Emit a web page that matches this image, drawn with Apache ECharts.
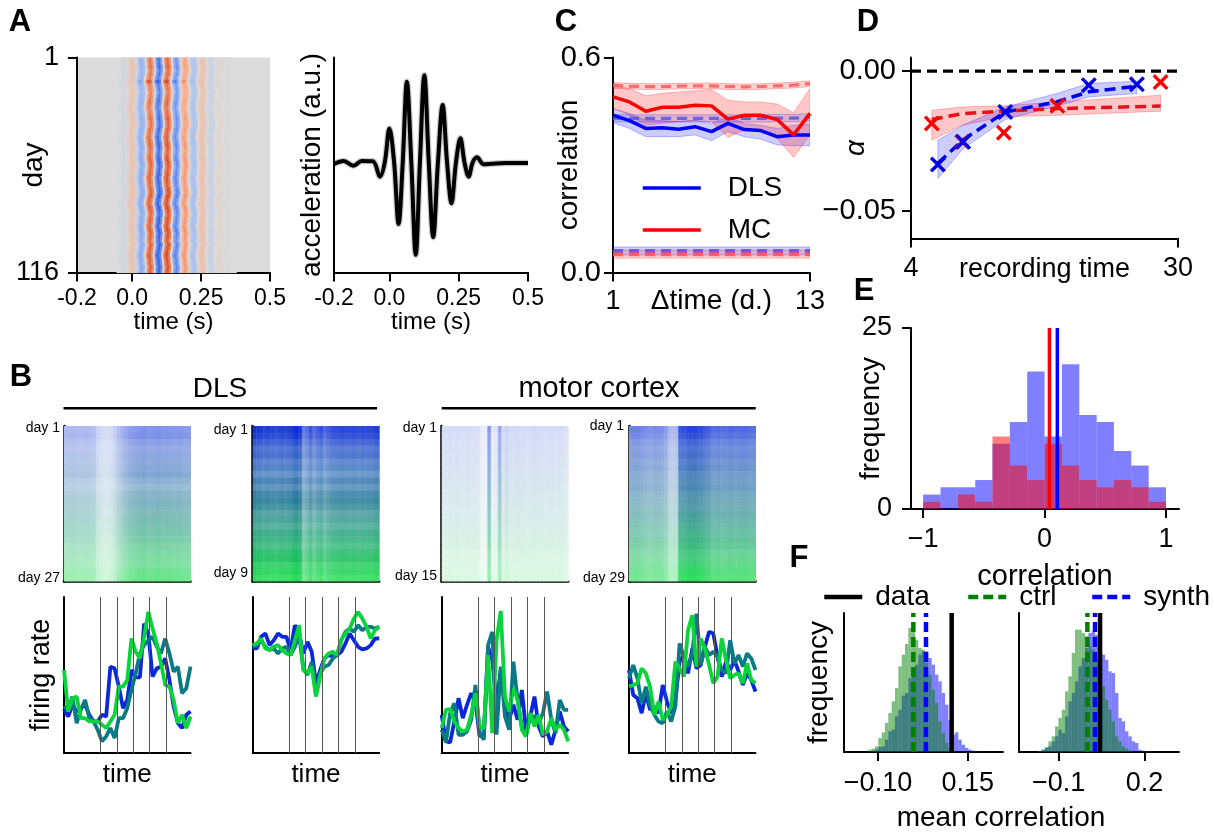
<!DOCTYPE html>
<html><head><meta charset="utf-8"><style>html,body{margin:0;padding:0;background:#fff}#c{width:1214px;height:833px}</style>
<script src="https://cdn.jsdelivr.net/npm/echarts@6/dist/echarts.min.js"></script></head>
<body><div id="c"></div><script>
// ---------- Panel A ----------
const heatStart=-0.0577, heatStep=0.0079;
const heatProfile=[0,-.02,-.06,-.1,-.05,.12,.24,.28,.18,-.15,-.45,-.58,-.45,.1,.68,.85,.68,-.1,-.75,-.98,-.75,.1,.75,.92,.72,.05,-.6,-.78,-.6,-.05,.48,.6,.48,.05,-.3,-.38,-.3,.03,.24,.3,.24,.02,-.11,-.14,-.11,0,.05,.07,.05,0,-.01,-.02,0,0,0];
const heatRowShift=[0,.1,.3,.4,.2,-.2,-.4,-.1,.2,.4,.2,0,-.2,-.4,-.1,.1,.2,.4,.4,.1,-.2,-.4,-.2,0,.2,.1,-.1,0,.3,.4,.1,0,-.3,-.1,0,.3,.5,.2,-.2,-.4,0,.3,.4,.1,0,-.3,0,.3,.1,0,.4,.1,-.2,-.4,-.1,0,.3,.1];
const heatRowGain=[.9,.9,.95,.85,.9,.85,1.1,.85,.85,.8,.85,.9,.9,.85,.85,.9,.95,.9,.9,.95,.9,.95,.95,1,.95,.9,.95,1,1,.95,.95,1,1,1,.95,1,1,1.05,1,1,1.05,1,.95,1,1,1,1.05,1,1,.95,1,1,1,1.05,1,1,1,1];
const coolwarm=['#3a62e4','#9ab8f5','#dbdbdb','#f7b090','#d5431f'];
const accelT=[-.2,-.165,-.13,-.1,-.06,-.034,-.017,0,.017,.033,.048,.063,.079,.095,.11,.126,.142,.158,.175,.192,.208,.224,.24,.256,.271,.286,.3,.316,.34,.37,.42,.5];
const accelV=[-4,5,-9,5,4,-42,0,103,0,-184,0,243,0,-277,0,263,0,-224,0,173,0,-122,0,73,0,-42,0,16,-5,-3,-1,-1];
// ---------- Panel B ----------
const rasterRows=[
 [.9,.95,.85,.8,.85,.85,.9,.95,.85,.8,.9,.95,.95,.95,1,1,1,1,.95,.95,.95,.95,1.05,1.1],
 [1.15,1.1,1,.9,.95,.85,.9,.8,.95,.85,1,1.05,1,.9,.95,.9,1,1,.95,1.05,1.1,1,1.05,1],
 [1.1,1,1,1,1,1,1,1,1,1,1,1,1,1,1,1,1,1,1,.9,.9,.9,.9,1],
 [1.15,1.1,1,.95,1,.95,1,.95,.95,1,.95,.95,.95,1,1,1,1,1.05,1.05,1,1,1.05,1.1,1.1]];
const rasterCols=[
 [.36,.36,.37,.36,.35,.36,.36,.35,.34,.24,.2,.18,.18,.2,.26,.34,.4,.45,.5,.52,.55,.56,.58,.56,.55,.56,.58,.56,.55,.56,.55,.54,.55,.54,.52,.52],
 [.85,.82,.8,.78,.8,.78,.76,.78,.8,.78,.8,.85,.88,.82,.55,.6,.7,.6,.68,.72,.62,.68,.72,.74,.75,.76,.75,.74,.76,.75,.74,.76,.75,.76,.78,.8],
 [.15,.15,.16,.15,.16,.15,.15,.16,.15,.15,.14,.08,.08,.45,.1,.12,.38,.16,.2,.16,.16,.17,.16,.16,.15,.16,.17,.16,.16,.15,.16,.16,.15,.16,.15,.13],
 [.5,.52,.52,.5,.48,.46,.46,.48,.48,.46,.42,.3,.28,.3,.7,.72,.75,.78,.78,.76,.74,.7,.68,.62,.6,.62,.6,.6,.62,.62,.6,.62,.62,.62,.6,.6]];
const rasterStops=['#0a28dc','#14738c','#0adc3c'];
const rateColors=['#0a28d8','#0a7a85','#0ad43c'];
const eventTimes=[8.64,12.56,16.44,20.32,24.24];
const rateBlue=[
 [130,110,145,125,135,145,115,95,95,115,110,260,255,200,135,160,250,228,228,390,360,230,255,260,285,220,140,90,75,115,125],
 [315,315,350,360,325,340,360,350,350,310,385,360,300,335,305,210,250,285,295,290,295,305,330,360,340,320,312,315,325,345,345],
 [115,35,32,95,165,105,145,180,155,50,60,320,280,150,250,150,100,145,100,190,70,110,170,80,50,65,25,70,125,80,65],
 [250,175,165,120,180,130,140,120,205,155,120,160,275,295,240,315,255,265,320,365,360,290,230,275,250,280,245,205,240,220,185]];
const rateTeal=[
 [140,130,170,90,130,160,105,95,70,35,50,75,45,105,105,135,190,240,300,325,340,350,320,300,345,300,245,260,180,195,260],
 [320,325,340,320,310,315,300,315,320,295,320,355,255,235,275,180,240,260,265,285,295,340,365,375,365,385,370,380,380,375,380],
 [70,32,120,150,55,55,65,100,205,60,40,325,365,55,260,110,70,275,160,80,50,110,110,90,120,185,100,60,160,130,130],
 [225,265,225,150,200,145,115,95,90,125,95,140,330,290,260,300,420,265,320,295,305,290,250,240,340,270,295,260,300,285,250]];
const rateGreen=[
 [250,125,165,170,105,105,95,95,95,85,75,95,115,200,200,220,345,305,285,350,425,375,330,270,205,200,160,90,115,75,110],
 [325,330,345,315,310,320,325,310,300,295,340,385,250,240,260,170,230,285,300,305,295,340,360,375,405,425,405,380,345,370,380],
 [75,130,132,95,75,65,70,115,180,80,75,295,60,340,428,170,125,195,160,70,50,120,80,115,55,65,105,70,85,70,35],
 [200,205,210,255,240,200,115,155,100,115,140,275,255,230,370,415,260,345,315,265,210,230,345,280,225,235,240,210,270,220,210]];
// ---------- Panel C ----------
const lagDays=[1,2,3,4,5,6,7,8,9,10,11,12,13];
const dlsCorr=[.439,.424,.402,.404,.400,.407,.393,.416,.399,.396,.379,.384,.384];
const dlsHigh=[.458,.444,.425,.424,.421,.425,.416,.435,.416,.411,.402,.411,.414];
const dlsLow=[.418,.402,.379,.379,.379,.384,.368,.393,.379,.372,.356,.354,.354];
const mcCorr=[.490,.476,.450,.461,.461,.467,.465,.428,.439,.439,.427,.384,.444];
const mcHigh=[.520,.514,.493,.500,.504,.507,.511,.481,.476,.476,.470,.446,.514];
const mcLow=[.458,.439,.411,.416,.421,.424,.421,.377,.398,.393,.374,.321,.384];
const mcSame=[.522,.520,.519,.519,.520,.521,.521,.519,.518,.519,.521,.523,.527];
const dlsSame=[.431,.430,.430,.430,.430,.430,.430,.430,.430,.430,.431,.431,.433];
const dlsCtrl=[.060,.060,.060,.060,.060,.060,.060,.060,.060,.060,.060,.060,.060];
const mcCtrl=[.051,.051,.051,.051,.051,.051,.051,.051,.051,.051,.051,.051,.051];
// ---------- Panel D ----------
const dBlueT=[4.9,5.93,8.15,12,15.3,22];
const dBluePts=[-.0334,-.0253,-.0146,null,-.005,-.0047];
const dBlueFit=[-.033,-.0245,-.0146,-.011,-.0074,-.0054];
const dBlueHigh=[-.0247,-.0193,-.0128,-.008,-.0044,-.0036];
const dBlueLow=[-.0384,-.0277,-.0173,-.0125,-.0092,-.008];
const dRedT=[4.68,5.89,8.06,12.08,26.3];
const dRedPts=[-.0187,-.0253,-.022,-.0124,-.0039];
const dRedFit=[-.0173,-.0152,-.0143,-.0134,-.0125];
const dRedHigh=[-.014,-.0128,-.0124,-.011,-.0086];
const dRedLow=[-.0247,-.0193,-.0163,-.0158,-.0143];
// ---------- Panel E ----------
const eEdges=[-1,-.857,-.714,-.571,-.429,-.286,-.143,0,.143,.286,.429,.571,.714,.857,1];
const eBlue=[2,3,3,4,9,12,19,10,20,13,12,8,6,3];
const eRed=[1,0,2,1,10,6,4,9,6,4,3,4,3,1];
const eMeanMC=.04, eMeanDLS=.105;
// ---------- Panel F ----------
const fLeftStart=-.127, fLeftWidth=.0093;
const fLeftCtrl=[7,10,17,42,59,87,117,152,192,257,292,324,372,389,337,312,307,267,232,187,147,92,57,27,12,4];
const fLeftSynth=[2,4,7,15,17,37,62,67,107,127,169,177,222,232,262,292,302,302,282,262,232,212,177,142,97,52,59,37,22,12,7,4,2];
const fLeftLines={data:.1054,ctrl:-.0015,synth:.0338};
const fRightStart=-.1712, fRightWidth=.01167;
const fRightCtrl=[3,7,15,32,47,77,102,127,182,227,297,367,367,357,347,317,307,277,242,197,157,127,92,47,32,17,10,5];
const fRightSynth=[2,7,12,17,32,47,67,57,107,152,177,212,257,282,312,357,362,352,347,292,277,242,237,177,102,92,62,47,32,27,7,4,3,2];
const fRightLines={data:.0447,ctrl:.0003,synth:.027};

// ---------- helpers ----------
const FONT='"Liberation Sans"';
const grids=[],xAxes=[],yAxes=[],series=[],elements=[];
function axis(o){
  const t=o.ticks;
  const fmt=v=>{let b=0;t.forEach((x,i)=>{if(Math.abs(x-v)<Math.abs(t[b]-v))b=i});return o.labels[b]};
  return {type:o.type||'value',min:o.min,max:o.max,inverse:!!o.inverse,
    axisLine:{show:true,onZero:false,lineStyle:{color:'#000',width:o.spine||2}},
    splitLine:{show:false},minorTick:{show:false},
    axisTick:t?{show:true,customValues:t,length:o.tickLen||9,lineStyle:{color:'#000',width:2}}:{show:false},
    axisLabel:t?{show:true,customValues:t,formatter:fmt,fontFamily:FONT,fontSize:o.fs||26,color:'#000',margin:o.margin||13}:{show:false},
    name:o.name||'',nameLocation:'middle',nameGap:o.gap||30,nameMoveOverlap:false,
    nameTextStyle:{fontFamily:FONT,fontSize:o.nfs||26,color:'#000',fontStyle:o.italic?'italic':'normal'}};
}
function panel(l,t,w,h,x,y,bg){
  grids.push({left:l,top:t,width:w,height:h,show:!!bg,backgroundColor:bg||'transparent',borderWidth:0,outerBoundsMode:'none'});
  xAxes.push(Object.assign(axis(x),{gridIndex:grids.length-1,position:'bottom'}));
  yAxes.push(Object.assign(axis(y),{gridIndex:grids.length-1,position:'left'}));
  return grids.length-1;
}
const rectItem=(colorOf,pad)=>(p,api)=>{
  const a=api.coord([api.value(0),api.value(2)]),b=api.coord([api.value(1),api.value(3)]);
  return {type:'rect',shape:{x:Math.min(a[0],b[0]),y:Math.min(a[1],b[1]),width:Math.abs(b[0]-a[0])+pad,height:Math.abs(b[1]-a[1])+pad},style:{fill:colorOf(api.value(4))}};
};
function cells(g,data,colorOf,pad){
  series.push({type:'custom',xAxisIndex:g,yAxisIndex:g,renderItem:rectItem(colorOf,pad||0),data,encode:{x:[0,1],y:[2,3]},silent:true,clip:true});
}
function line(g,name,xs,ys,color,width,dash,opacity,smooth,z){
  series.push({type:'line',name,xAxisIndex:g,yAxisIndex:g,data:xs.map((x,i)=>[x,ys[i]]),symbol:'none',smooth:smooth||false,
    lineStyle:{color,width,type:dash||'solid',opacity:opacity==null?1:opacity},itemStyle:{color},silent:true,z:z||2});
}
function band(g,xs,lo,hi,fill,stroke){
  const rows=xs.map((x,i)=>[x,lo[i],hi[i]]);
  series.push({type:'custom',xAxisIndex:g,yAxisIndex:g,silent:true,data:rows,encode:{x:0,y:[1,2]},clip:true,
    renderItem:(p,api)=>{
      if(p.dataIndex!==0) return null;
      const up=rows.map(r=>api.coord([r[0],r[2]])),dn=rows.map(r=>api.coord([r[0],r[1]])).reverse();
      return {type:'polygon',shape:{points:up.concat(dn)},style:{fill,stroke,lineWidth:1}};
    }});
}
function text(t,x,y,fs,opt){
  elements.push({type:'text',silent:true,style:{text:t,x,y,font:(opt&&opt.bold?'bold ':'')+fs+'px '+FONT,fill:'#000',textAlign:(opt&&opt.align)||'center',textVerticalAlign:'middle'}});
}
function rule(x1,x2,y){elements.push({type:'line',silent:true,shape:{x1,y1:y,x2,y2:y},style:{stroke:'#000',lineWidth:2.5}})}
const RF='rgba(255,0,0,.22)',RS='rgba(255,0,0,.25)',BF='rgba(0,0,255,.2)',BS='rgba(0,0,255,.25)';

// ---------- A ----------
let g=panel(77,57.5,193,215,
 {min:-.2,max:.5,ticks:[-.2,0,.25,.5],labels:['-0.2','0.0','0.25','0.5'],fs:23,margin:15,name:'time (s)',nfs:24,gap:38},
 {min:1,max:116,inverse:true,ticks:[1,116],labels:['1','116'],fs:27,margin:18,name:'day',nfs:28,gap:29},'#dbdbdb');
const heatData=[];
heatRowShift.forEach((sh,r)=>{
  const d0=1+r*115/heatRowShift.length,d1=1+(r+1)*115/heatRowShift.length;
  heatProfile.forEach((v,c)=>{const t=heatStart+(c+sh)*heatStep;heatData.push([t,t+heatStep,d0,d1,v*heatRowGain[r]])});
});
cells(g,heatData,v=>{const k=Math.max(0,Math.min(1,(v+1)/2));return echarts.color.lerp(k,coolwarm)},.6);
g=panel(334,57.5,194,215,
 {min:-.2,max:.5,ticks:[-.2,0,.25,.5],labels:['-0.2','0.0','0.25','0.5'],fs:23,margin:15,name:'time (s)',nfs:24,gap:38},
 {min:-330,max:316,name:'acceleration (a.u.)',nfs:28,gap:8});
line(g,'',accelT,accelV,'rgba(0,0,0,.2)',6.5,null,1,.35);
line(g,'',accelT,accelV,'#000',4,null,1,.35);
// ---------- B ----------
const rasterL=[64,252.7,441.7,629];
rasterL.forEach((l,p)=>{
  g=panel(l,426,126.5,155.5,{min:0,max:36,spine:2.5},{min:0,max:24,inverse:true,spine:2.5});
  const dat=[];
  rasterRows[p].forEach((rv,r)=>rasterCols[p].forEach((cv,c)=>dat.push([c,c+1,r,r+1,Math.min(1,rv*cv)+r*10])));
  const R=rasterRows[p].length;
  cells(g,dat,v=>{const r=Math.floor(v/10),d=v-r*10;return echarts.color.lerp(d,['#ffffff',echarts.color.lerp((r+.5)/R,rasterStops)])},.5);
});
rasterL.forEach((l,p)=>{
  g=panel(l,597,126.5,156,
    {min:0,max:30,name:'time',nfs:26,gap:9},
    p==0?{min:0,max:470,name:'firing rate',nfs:27,gap:9}:{min:0,max:470});
  series.push({type:'line',xAxisIndex:g,yAxisIndex:g,data:[],silent:true,markLine:{silent:true,symbol:'none',animation:false,label:{show:false},
    lineStyle:{color:'#555',width:1,type:'solid'},data:eventTimes.map(v=>({xAxis:v}))}});
  const xs=rateBlue[p].map((_,i)=>i);
  line(g,'',xs,rateBlue[p],rateColors[0],3.8);
  line(g,'',xs,rateTeal[p],rateColors[1],3.8);
  line(g,'',xs,rateGreen[p],rateColors[2],3.8);
});
// ---------- C ----------
g=panel(613,57.5,197,215,
 {min:1,max:13,ticks:[1,13],labels:['1','13'],fs:27,margin:16,name:'Δtime (d.)',nfs:28,gap:15},
 {min:0,max:.6,ticks:[0,.6],labels:['0.0','0.6'],fs:29,margin:12,name:'correlation',nfs:28,gap:30});
band(g,lagDays,dlsLow,dlsHigh,BF,BS);
band(g,lagDays,mcLow,mcHigh,RF,RS);
band(g,lagDays,mcSame.map(v=>v-.008),mcSame.map(v=>v+.008),'rgba(255,0,0,.18)',RS);
band(g,lagDays,dlsSame.map(v=>v-.01),dlsSame.map(v=>v+.01),'rgba(0,0,255,.12)',BS);
band(g,lagDays,dlsCtrl.map(v=>v-.011),dlsCtrl.map(v=>v+.011),'rgba(0,0,255,.18)',BS);
band(g,lagDays,mcCtrl.map(v=>v-.011),mcCtrl.map(v=>v+.011),'rgba(255,0,0,.18)',RS);
line(g,'',lagDays,mcSame,'#ff5050',3.2,[10,6],.8);
line(g,'',lagDays,dlsSame,'#5050e0',3.2,[10,6],.8);
line(g,'',lagDays,dlsCtrl,'#5050e0',3.8,[10,6],.85);
line(g,'',lagDays,mcCtrl,'#ff5050',3.8,[10,6],.85);
line(g,'DLS',lagDays,dlsCorr,'#0000ff',3.5);
line(g,'MC',lagDays,mcCorr,'#ff0000',3.5);
// ---------- D ----------
g=panel(911,57.5,267,181,
 {type:'log',min:4,max:30,ticks:[4,30],labels:['4','30'],fs:27,margin:17,name:'recording time',nfs:27,gap:18},
 {min:-.0599,max:.0049,ticks:[0,-.05],labels:['0.00','−0.05'],fs:29,margin:15,name:'α',italic:true,nfs:28,gap:41});
band(g,dRedT,dRedLow,dRedHigh,RF,RS);
band(g,dBlueT,dBlueLow,dBlueHigh,BF,BS);
line(g,'',[4,30],[0,0],'#000',3.2,[10,6]);
line(g,'',dRedT,dRedFit,'#e8101a',3.5,[11,6]);
line(g,'',dBlueT,dBlueFit,'#0000e6',3.5,[11,6]);
const crossMark='path://M1.5 0L5 3.5L8.5 0L10 1.5L6.5 5L10 8.5L8.5 10L5 6.5L1.5 10L0 8.5L3.5 5L0 1.5Z';
[[dRedT,dRedPts,'#ff0000'],[dBlueT,dBluePts,'#0000e6']].forEach(([xs,ys,c])=>{
  series.push({type:'scatter',xAxisIndex:g,yAxisIndex:g,symbol:crossMark,symbolSize:16,silent:true,z:4,itemStyle:{color:c,opacity:1},
    data:xs.map((x,i)=>[x,ys[i]]).filter(d=>d[1]!==null)});
});
// ---------- E ----------
g=panel(911,328,268,181,
 {min:-1.1,max:1.107,ticks:[-1,0,1],labels:['−1','0','1'],fs:27,margin:17,name:'correlation',nfs:29,gap:53},
 {min:0,max:25,ticks:[0,25],labels:['0','25'],fs:27,margin:19,name:'frequency',nfs:28,gap:26});
const hist=(xe,ys)=>ys.map((v,i)=>[xe[i],xe[i+1],0,v,0]);
cells(g,hist(eEdges,eBlue),()=>'rgba(0,0,255,.5)');
cells(g,hist(eEdges,eRed),()=>'rgba(255,0,0,.5)');
line(g,'',[eMeanMC,eMeanMC],[0,25],'#ff0000',3.5);
line(g,'',[eMeanDLS,eMeanDLS],[0,25],'#0000ff',3.5);
// ---------- F ----------
const binned=(s,w,ys)=>ys.map((v,i)=>[s+i*w,s+(i+1)*w,0,v,0]);
const fY=417;
g=panel(844,613,159,139,
 {min:-.1948,max:.2485,ticks:[-.1,.15],labels:['−0.10','0.15'],fs:27,margin:18},
 {min:0,max:fY,name:'frequency',nfs:28,gap:11});
cells(g,binned(fLeftStart,fLeftWidth,fLeftSynth),()=>'rgba(0,0,255,.5)');
cells(g,binned(fLeftStart,fLeftWidth,fLeftCtrl),()=>'rgba(0,128,0,.5)');
line(g,'data',[fLeftLines.data,fLeftLines.data],[0,fY],'#000',4.5);
line(g,'ctrl',[fLeftLines.ctrl,fLeftLines.ctrl],[0,fY],'#008000',4.5,[10,5]);
line(g,'synth',[fLeftLines.synth,fLeftLines.synth],[0,fY],'#0000ff',4.5,[10,5]);
g=panel(1019,613,160,139,
 {min:-.239,max:.321,ticks:[-.1,.2],labels:['−0.1','0.2'],fs:27,margin:18},
 {min:0,max:fY});
cells(g,binned(fRightStart,fRightWidth,fRightSynth),()=>'rgba(0,0,255,.5)');
cells(g,binned(fRightStart,fRightWidth,fRightCtrl),()=>'rgba(0,128,0,.5)');
line(g,'data',[fRightLines.data,fRightLines.data],[0,fY],'#000',4.5);
line(g,'ctrl',[fRightLines.ctrl,fRightLines.ctrl],[0,fY],'#008000',4.5,[10,5]);
line(g,'synth',[fRightLines.synth,fRightLines.synth],[0,fY],'#0000ff',4.5,[10,5]);
// ---------- texts ----------
[['A',20,22],['B',21,377],['C',566,22],['D',868,22],['E',864,291],['F',799,558]].forEach(a=>text(a[0],a[1],a[2],31,{bold:true}));
text('DLS',220,389,28); text('motor cortex',599,389,29);
rule(63.5,377,408.3); rule(441.7,755.7,408.3);
[['day 1',60,428],['day 27',60,578],['day 1',248,430],['day 9',248,573],['day 1',437,428],['day 15',437,576],['day 1',624,426],['day 29',625,578]].forEach(a=>text(a[0],a[1],a[2],14,{align:'right'}));
text('mean correlation',1001,818,28);

const fLegend=(name,left,pad)=>({data:[name],left,top:583,padding:0,itemWidth:38,itemHeight:26,selectedMode:false,itemStyle:{opacity:0},lineStyle:{width:4.5},textStyle:{fontFamily:FONT,fontSize:28,color:'#000',padding:[0,0,0,pad]}});
const chart=echarts.init(document.getElementById('c'),null,{renderer:'canvas'});
chart.setOption({animation:false,backgroundColor:'#fff',grid:grids,xAxis:xAxes,yAxis:yAxes,series,
 graphic:{elements},
 legend:[
  {data:['DLS','MC'],orient:'vertical',left:641,top:174,padding:0,itemWidth:58,itemHeight:28,itemGap:14,selectedMode:false,itemStyle:{opacity:0},lineStyle:{width:3.5},textStyle:{fontFamily:FONT,fontSize:28,color:'#000',padding:[0,0,0,22]}},
  fLegend('data',822,8),fLegend('ctrl',966,8),fLegend('synth',1090,8)
 ]});
</script></body></html>
